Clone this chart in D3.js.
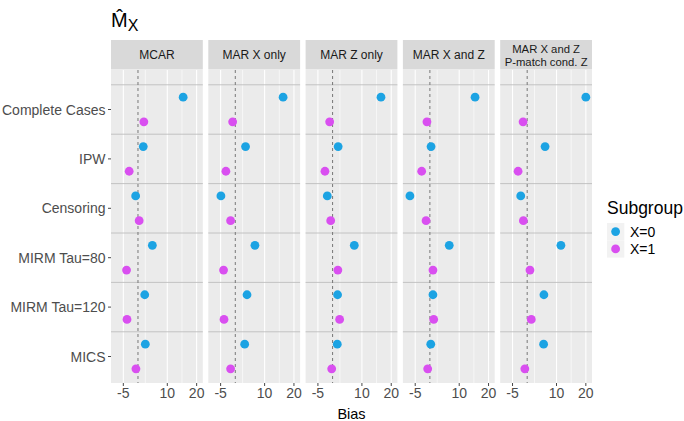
<!DOCTYPE html>
<html>
<head>
<meta charset="utf-8">
<script src="https://cdn.jsdelivr.net/npm/d3@7"></script>
<style>
  body { margin: 0; background: #fff; }
  svg text { font-family: "Liberation Sans", Arial, sans-serif; }
</style>
</head>
<body>
<div id="chart"></div>
<script>
// data
const scenarios = ["MCAR", "MAR X only", "MAR Z only", "MAR X and Z", "MAR X and Z|P-match cond. Z"];
const methods = ["Complete Cases", "IPW", "Censoring", "MIRM Tau=80", "MIRM Tau=120", "MICS"];
const groups = ["X=0", "X=1"];
// one array per scenario, values in methods order
const biasX0 = [
    [15.4, 1.8, -0.8, 4.9, 2.3, 2.5],
    [16.3, 3.5, -4.9, 6.7, 4.0, 3.2],
    [16.5, 1.9, -1.8, 7.4, 1.7, 1.6],
    [15.4, 0.4, -6.8, 6.6, 1.05, 0.3],
    [20.0, 6.1, -2.2, 11.5, 5.7, 5.6]
];
const biasX1 = [
    [2.0, -3.0, 0.4, -3.9, -3.75, -0.7],
    [-0.9, -3.2, -1.6, -4.0, -3.85, -1.6],
    [-1.0, -2.6, -0.65, 1.8, 2.4, -0.3],
    [-1.0, -2.8, -1.3, 1.05, 1.3, -0.75],
    [-1.4, -3.1, -1.3, 0.95, 1.4, -0.8]
];
const xTicks = [-5, 10, 20];
const xMinor = [2.5, 15];

const colors = {"X=0": "#1ca3e3", "X=1": "#d94ff0"};

const W = 684, H = 421;
const svg = d3.select("#chart").append("svg")
    .attr("width", W).attr("height", H);

// layout
const panelLeft = 111, panelW = 91.8, panelGap = 5.5;
const stripTop = 40, stripBottom = 69.5;
const panelTop = 70, panelBottom = 383;

let xScale = d3.scaleLinear().domain([-9.2, 22.1]).range([0, panelW]);
let yScale = d3.scalePoint().domain(methods).range([109.5 - panelTop, 356.5 - panelTop]);
const step = yScale.step();
const dodge = step / 4;

// title  M-hat sub X
const title = svg.append("text").attr("x", 111).attr("y", 27).attr("fill", "#000");
title.append("tspan").attr("font-size", 20).text("M\u0302");
title.append("tspan").attr("font-size", 16).attr("dy", 4).text("X");

scenarios.forEach(function(s, k){
    const x0 = panelLeft + k * (panelW + panelGap);
    const g = svg.append("g").attr("transform", `translate(${x0},${panelTop})`);

    // strip
    svg.append("rect")
        .attr("x", x0).attr("y", stripTop)
        .attr("width", panelW).attr("height", stripBottom - stripTop)
        .attr("fill", "#d9d9d9");
    const lines = s.split("|");
    const st = svg.append("text")
        .attr("text-anchor", "middle")
        .attr("fill", "#1a1a1a")
        .attr("font-size", lines.length > 1 ? 11.3 : 12);
    if (lines.length == 1) {
        st.attr("x", x0 + panelW / 2).attr("y", 59).text(s);
    } else {
        st.append("tspan").attr("x", x0 + panelW / 2).attr("y", 53).text(lines[0]);
        st.append("tspan").attr("x", x0 + panelW / 2).attr("y", 65.5).text(lines[1]);
    }

    // panel background
    g.append("rect")
        .attr("width", panelW).attr("height", panelBottom - panelTop)
        .attr("fill", "#ebebeb");

    // grid
    g.selectAll(".minor").data(xMinor).enter().append("line")
        .attr("x1", d => xScale(d)).attr("x2", d => xScale(d))
        .attr("y1", 0).attr("y2", panelBottom - panelTop)
        .attr("stroke", "#fff").attr("stroke-width", 0.6);
    g.selectAll(".major").data(xTicks).enter().append("line")
        .attr("x1", d => xScale(d)).attr("x2", d => xScale(d))
        .attr("y1", 0).attr("y2", panelBottom - panelTop)
        .attr("stroke", "#fff").attr("stroke-width", 1.1);

    // row separators
    g.selectAll(".sep").data(methods).enter().append("line")
        .attr("x1", 0).attr("x2", panelW)
        .attr("y1", d => yScale(d) - step / 2).attr("y2", d => yScale(d) - step / 2)
        .attr("stroke", "#bdbdbd").attr("stroke-width", 0.9);

    // zero line
    g.append("line")
        .attr("x1", xScale(0)).attr("x2", xScale(0))
        .attr("y1", 0).attr("y2", panelBottom - panelTop)
        .attr("stroke", "#777").attr("stroke-width", 1)
        .attr("stroke-dasharray", "3,3");

    // points
    const pts = [];
    methods.forEach(function(m, i){
        pts.push({m: m, grp: "X=0", v: biasX0[k][i]});
        pts.push({m: m, grp: "X=1", v: biasX1[k][i]});
    });
    g.selectAll(".pt").data(pts).enter().append("circle")
        .attr("cx", d => xScale(d.v))
        .attr("cy", d => yScale(d.m) + (d.grp == "X=0" ? -dodge : dodge))
        .attr("r", 4.4)
        .attr("fill", d => colors[d.grp]);

    // x axis
    const xa = svg.append("g").attr("transform", `translate(${x0},${panelBottom})`);
    xa.selectAll("line").data(xTicks).enter().append("line")
        .attr("x1", d => xScale(d)).attr("x2", d => xScale(d))
        .attr("y1", 0).attr("y2", 3)
        .attr("stroke", "#333").attr("stroke-width", 0.9);
    xa.selectAll("text").data(xTicks).enter().append("text")
        .attr("x", d => xScale(d)).attr("y", 15)
        .attr("text-anchor", "middle")
        .attr("font-size", 14).attr("fill", "#4d4d4d")
        .text(d => d);
});

// y axis
const ya = svg.append("g").attr("transform", `translate(${panelLeft},${panelTop})`);
ya.selectAll("line").data(methods).enter().append("line")
    .attr("x1", -3).attr("x2", 0)
    .attr("y1", d => yScale(d)).attr("y2", d => yScale(d))
    .attr("stroke", "#333").attr("stroke-width", 0.9);
ya.selectAll("text").data(methods).enter().append("text")
    .attr("x", -5.5).attr("y", d => yScale(d) + 5)
    .attr("text-anchor", "end")
    .attr("font-size", 14).attr("fill", "#4d4d4d")
    .text(d => d);

// x title
svg.append("text")
    .attr("x", panelLeft + (5 * panelW + 4 * panelGap) / 2).attr("y", 419)
    .attr("text-anchor", "middle")
    .attr("font-size", 14.5).attr("fill", "#000")
    .text("Bias");

// legend
const lg = svg.append("g").attr("transform", "translate(607,0)");
lg.append("text").attr("x", 0).attr("y", 214)
    .attr("font-size", 17.5).attr("fill", "#000").text("Subgroup");
groups.forEach(function(gname, i){
    const ky = 223 + i * 17.3;
    lg.append("rect").attr("x", 0).attr("y", ky)
        .attr("width", 17.3).attr("height", 17.3).attr("fill", "#f2f2f2");
    lg.append("circle").attr("cx", 8.6).attr("cy", ky + 8.6)
        .attr("r", 4.4).attr("fill", colors[gname]);
    lg.append("text").attr("x", 23).attr("y", ky + 13.5)
        .attr("font-size", 14).attr("fill", "#000").text(gname);
});
</script>
</body>
</html>
